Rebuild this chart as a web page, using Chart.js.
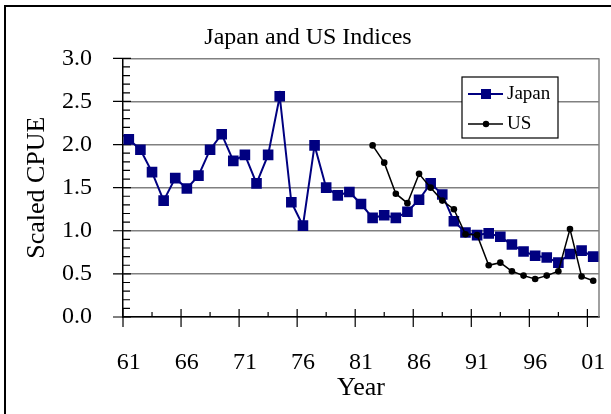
<!DOCTYPE html>
<html>
<head>
<meta charset="utf-8">
<script src="https://cdn.jsdelivr.net/npm/chart.js@4.4.1/dist/chart.umd.min.js"></script>
<style>
  html, body { margin: 0; padding: 0; background: #fff; overflow: hidden; }
  #wrap { position: relative; width: 611px; height: 414px; }
  #frame { position: absolute; left: 4px; top: 5px; width: 640px; height: 440px; border: 2px solid #000; pointer-events: none; }
  canvas { position: absolute; left: 0; top: 0; }
</style>
</head>
<body>
<div id="wrap">
  <div id="frame"></div>
  <canvas id="cpue" width="611" height="414"></canvas>
</div>
<script>
// Japan and US scaled CPUE indices
const years = [61, 62, 63, 64, 65, 66, 67, 68, 69, 70,
               71, 72, 73, 74, 75, 76, 77, 78, 79, 80,
               81, 82, 83, 84, 85, 86, 87, 88, 89, 90,
               91, 92, 93, 94, 95, 96, 97, 98, 99, 100, 101];
const japanCpue = [2.06, 1.94, 1.68, 1.35, 1.61, 1.49, 1.64, 1.94, 2.12, 1.81,
                   1.88, 1.55, 1.88, 2.56, 1.33, 1.06, 1.99, 1.50, 1.41, 1.45,
                   1.31, 1.15, 1.18, 1.15, 1.22, 1.36, 1.55, 1.42, 1.11, 0.98,
                   0.95, 0.97, 0.93, 0.84, 0.76, 0.71, 0.69, 0.63, 0.73, 0.77, 0.70];
const usYears = [82, 83, 84, 85, 86, 87, 88, 89, 90,
                 91, 92, 93, 94, 95, 96, 97, 98, 99, 100, 101];
const usCpue = [1.99, 1.79, 1.43, 1.32, 1.66, 1.50, 1.35, 1.25, 0.96,
                0.95, 0.60, 0.63, 0.53, 0.48, 0.44, 0.48, 0.53, 1.02, 0.47, 0.42];
const yearLabels = [61, 66, 71, 76, 81, 86, 91, 96, 101];
const yTicks = [0, 0.5, 1.0, 1.5, 2.0, 2.5, 3.0];

const SERIF = "'Liberation Serif', 'Times New Roman', serif";
const NAVY = '#000080';
const GRID = '#808080';

// Excel-style tick marks: long crossing major ticks, short inner minor ticks
const axisMarks = {
    id: 'axisMarks',
    beforeDatasetsDraw(chart) {
        const { ctx, chartArea: a, scales: { x, y } } = chart;
        ctx.save();
        ctx.strokeStyle = GRID;
        ctx.lineWidth = 1.5;
        ctx.beginPath();
        ctx.moveTo(a.right, a.top);
        ctx.lineTo(a.right, a.bottom);
        ctx.stroke();

        ctx.strokeStyle = '#000';
        ctx.lineWidth = 1.2;
        ctx.beginPath();
        for (let i = 0; i <= 30; i++) {
            const py = y.getPixelForValue(i / 10);
            if (i % 5 === 0) {
                ctx.moveTo(a.left - 10, py);
                ctx.lineTo(a.left + 8, py);
            } else {
                ctx.moveTo(a.left, py);
                ctx.lineTo(a.left + 7, py);
            }
        }
        for (let k = 0; k <= 16; k++) {
            const v = 60.5 + k * 2.5;
            const px = x.getPixelForValue(v);
            if (k % 2 === 0) {
                ctx.moveTo(px, a.bottom - 8);
                ctx.lineTo(px, a.bottom + 10);
            } else {
                ctx.moveTo(px, a.bottom);
                ctx.lineTo(px, a.bottom - 5);
            }
        }
        ctx.stroke();
        ctx.restore();
    },
    afterDraw(chart) {
        // boxed legend in the upper right of the plot
        const { ctx } = chart;
        const bx = 462, by = 77, bw = 96, bh = 61;
        ctx.save();
        ctx.fillStyle = '#fff';
        ctx.fillRect(bx, by, bw, bh);
        ctx.strokeStyle = '#000';
        ctx.lineWidth = 1.2;
        ctx.strokeRect(bx, by, bw, bh);

        const rows = [
            { label: 'Japan', color: NAVY, y: 94, width: 2, marker: 'rect' },
            { label: 'US', color: '#000', y: 124, width: 1.5, marker: 'circle' },
        ];
        ctx.font = `19px ${SERIF}`;
        ctx.textBaseline = 'middle';
        rows.forEach(r => {
            ctx.strokeStyle = r.color;
            ctx.lineWidth = r.width;
            ctx.beginPath();
            ctx.moveTo(468, r.y);
            ctx.lineTo(503, r.y);
            ctx.stroke();
            ctx.fillStyle = r.color;
            if (r.marker === 'rect') {
                ctx.fillRect(481, r.y - 5, 10, 10);
            } else {
                ctx.beginPath();
                ctx.arc(486, r.y, 3.2, 0, Math.PI * 2);
                ctx.fill();
            }
            ctx.fillStyle = '#000';
            ctx.fillText(r.label, 507, r.y);
        });
        ctx.restore();
    }
};

new Chart(document.getElementById('cpue'), {
    type: 'line',
    data: {
        datasets: [
            {
                label: 'Japan',
                data: years.map((yr, i) => ({ x: yr, y: japanCpue[i] })),
                borderColor: NAVY,
                backgroundColor: NAVY,
                borderWidth: 2,
                pointStyle: 'rect',
                pointRadius: 7.5,
                pointBorderWidth: 0,
                pointBackgroundColor: NAVY,
                tension: 0,
                order: 1,
            },
            {
                label: 'US',
                data: usYears.map((yr, i) => ({ x: yr, y: usCpue[i] })),
                borderColor: '#000',
                backgroundColor: '#000',
                borderWidth: 1.5,
                pointStyle: 'circle',
                pointRadius: 3.3,
                pointBorderWidth: 0,
                pointBackgroundColor: '#000',
                tension: 0,
                order: 0,
            }
        ]
    },
    options: {
        responsive: false,
        animation: false,
        devicePixelRatio: 1,
        layout: { padding: { left: 17, right: 12, top: 0, bottom: 0 } },
        scales: {
            x: {
                type: 'linear',
                min: 60.5,
                max: 101.5,
                afterBuildTicks: scale => { scale.ticks = yearLabels.map(v => ({ value: v })); },
                afterFit: scale => {
                    scale.height = 97;
                    scale.paddingLeft = 0;
                    scale.paddingRight = 0;
                },
                ticks: {
                    autoSkip: false,
                    maxRotation: 0,
                    padding: 31,
                    color: '#000',
                    font: { family: SERIF, size: 24 },
                    callback: v => String(v % 100).padStart(2, '0'),
                },
                grid: { display: true, drawOnChartArea: false, drawTicks: false },
                border: { color: '#000', width: 1.5 },
                title: {
                    display: true,
                    text: 'Year',
                    color: '#000',
                    font: { family: SERIF, size: 26 },
                    padding: { top: 0, bottom: 10 },
                },
            },
            y: {
                min: 0,
                max: 3,
                afterBuildTicks: scale => { scale.ticks = yTicks.map(v => ({ value: v })); },
                afterFit: scale => { scale.width = 106; },
                ticks: {
                    padding: 31,
                    color: '#000',
                    font: { family: SERIF, size: 24 },
                    callback: v => v.toFixed(1),
                },
                grid: { color: GRID, lineWidth: 1.5, drawTicks: false },
                border: { color: '#000', width: 1.5 },
                title: {
                    display: true,
                    text: 'Scaled CPUE',
                    color: '#000',
                    font: { family: SERIF, size: 26 },
                    padding: { top: 5, bottom: 0 },
                },
            }
        },
        plugins: {
            legend: { display: false },
            tooltip: { enabled: false },
            title: {
                display: true,
                text: 'Japan and US Indices',
                color: '#000',
                font: { family: SERIF, size: 24, weight: 'normal' },
                padding: { top: 23, bottom: 6.5 },
            }
        }
    },
    plugins: [axisMarks]
});
</script>
</body>
</html>
